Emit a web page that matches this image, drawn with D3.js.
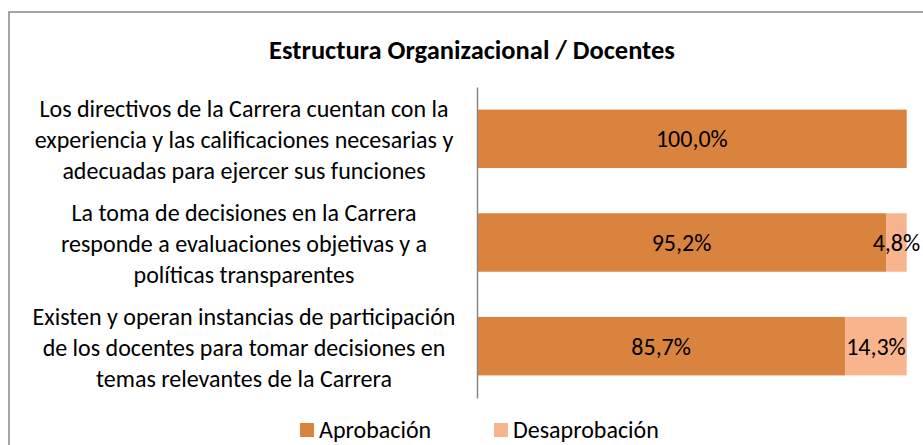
<!DOCTYPE html>
<html>
<head>
<meta charset="utf-8">
<script src="https://cdn.jsdelivr.net/npm/d3@7"></script>
<style>
  body { margin: 0; background: #fff; }
  text { font-family: Carlito, Calibri, Lato, sans-serif; fill: #000; }
</style>
</head>
<body>
<div id="chart"></div>
<script>
// categories, as they are wrapped on the axis
var categories = [
  ["Los directivos de la Carrera cuentan con la", "experiencia y las calificaciones necesarias y", "adecuadas para ejercer sus funciones"],
  ["La toma de decisiones en la Carrera", "responde a evaluaciones objetivas y a", "políticas transparentes"],
  ["Existen y operan instancias de participación", "de los docentes para tomar decisiones en", "temas relevantes de la Carrera"]
];
var aprobacion = [100.0, 95.2, 85.7];
var desaprobacion = [0.0, 4.8, 14.3];
var seriesNames = ["Aprobación", "Desaprobación"];
var colors = ["#DA833F", "#F7B48D"];

var width = 923, height = 445;

var svg = d3.select("#chart").append("svg")
  .attr("width", width)
  .attr("height", height);

// chart area border (runs off the right and bottom edges)
svg.append("rect")
  .attr("x", 9).attr("y", 12)
  .attr("width", 940).attr("height", 460)
  .attr("fill", "none")
  .attr("stroke", "#878787")
  .attr("stroke-width", 1.5);

svg.append("text")
  .attr("x", 472).attr("y", 59)
  .attr("text-anchor", "middle")
  .attr("font-size", 26.5)
  .attr("font-weight", "bold")
  .text("Estructura Organizacional / Docentes");

var keys = categories.map(function (d, i) { return i; });

var x = d3.scaleLinear().domain([0, 100]).range([477, 906.7]);
var y = d3.scaleBand().domain(keys).range([87, 398])
  .paddingInner(0.436).paddingOuter(0.218);

var rows = keys.map(function (i) {
  return { key: i, a: aprobacion[i], d: desaprobacion[i] };
});
var stack = d3.stack().keys(["a", "d"])(rows);

var layer = svg.selectAll(".layer")
  .data(stack)
  .enter().append("g")
  .attr("class", "layer")
  .attr("fill", function (d, i) { return colors[i]; });

layer.selectAll("rect")
  .data(function (d) { return d; })
  .enter().append("rect")
  .attr("x", function (d) { return x(d[0]); })
  .attr("y", function (d) { return y(d.data.key); })
  .attr("width", function (d) { return x(d[1]) - x(d[0]); })
  .attr("height", y.bandwidth());

layer.selectAll(".val")
  .data(function (d) { return d.filter(function (s) { return s[1] - s[0] > 0; }); })
  .enter().append("text")
  .attr("class", "val")
  .attr("x", function (d) { return (x(d[0]) + x(d[1])) / 2; })
  .attr("y", function (d) { return y(d.data.key) + y.bandwidth() / 2; })
  .attr("dy", "0.35em")
  .attr("text-anchor", "middle")
  .attr("font-size", 24)
  .text(function (d) { return (d[1] - d[0]).toFixed(1).replace(".", ",") + "%"; });

// vertical axis line, no ticks
svg.append("g")
  .attr("transform", "translate(" + x(0) + ",0)")
  .call(d3.axisLeft(y).tickSize(0).tickFormat(""))
  .call(function (g) { g.select(".domain").attr("stroke", "#878787").attr("stroke-width", 1.5); });

// category labels, centred over three lines
var lineH = 31;
var cat = svg.selectAll(".cat")
  .data(keys)
  .enter().append("text")
  .attr("class", "cat")
  .attr("text-anchor", "middle")
  .attr("font-size", 24);

cat.selectAll("tspan")
  .data(function (i) {
    var lines = categories[i];
    var c = y(i) + y.bandwidth() / 2 + 1;
    return lines.map(function (l, j) {
      return { t: l, y: c + (j - (lines.length - 1) / 2) * lineH };
    });
  })
  .enter().append("tspan")
  .attr("x", 244)
  .attr("y", function (d) { return d.y; })
  .attr("dy", "0.35em")
  .text(function (d) { return d.t; });

// legend
var legX = [300, 494];
var leg = svg.selectAll(".leg")
  .data(seriesNames)
  .enter().append("g")
  .attr("class", "leg")
  .attr("transform", function (d, i) { return "translate(" + legX[i] + ",423)"; });

leg.append("rect")
  .attr("width", 14).attr("height", 14)
  .attr("fill", function (d, i) { return colors[i]; });

leg.append("text")
  .attr("x", 19).attr("y", 7)
  .attr("dy", "0.35em")
  .attr("font-size", 24)
  .text(function (d) { return d; });
</script>
</body>
</html>
